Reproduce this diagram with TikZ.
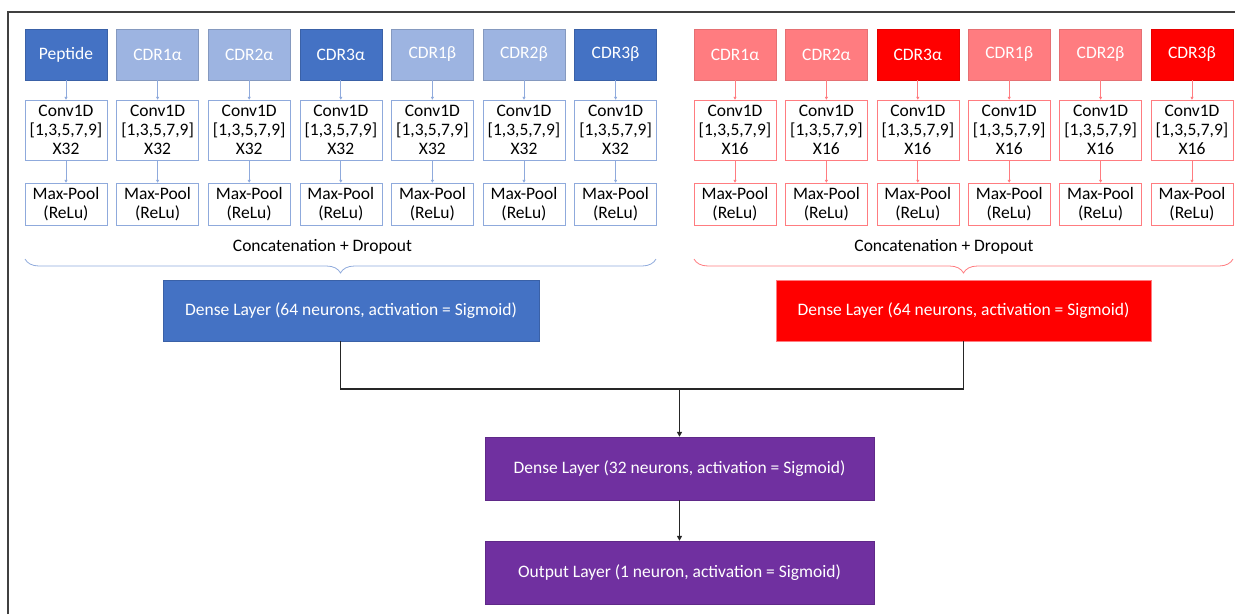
\documentclass[tikz,border=0pt]{standalone}
\usepackage{fontspec}
\setmainfont{Carlito}
\usepackage{tikz}
\usetikzlibrary{arrows.meta}
\usetikzlibrary{decorations,decorations.pathreplacing}
\usepackage{xcolor}
\definecolor{bdark}{HTML}{4472C4}
\definecolor{blight}{HTML}{9DB4E1}
\definecolor{bline}{HTML}{8FAADC}
\definecolor{rdark}{HTML}{FF0000}
\definecolor{rlight}{HTML}{FF7C80}
\definecolor{pdark}{HTML}{7030A0}
\tikzstyle{every node}=[font=\fontsize{17.5}{19}\selectfont]
\tikzstyle{inbox}=[minimum width=82pt, minimum height=51pt, inner sep=0pt, text=white]
\tikzstyle{bconv}=[draw=bline, fill=white, minimum width=82pt, minimum height=60pt, inner sep=0pt, align=center]
\tikzstyle{bpool}=[draw=bline, fill=white, minimum width=82pt, minimum height=42pt, inner sep=0pt, align=center]
\tikzstyle{rconv}=[bconv, draw=rlight]
\tikzstyle{rpool}=[bpool, draw=rlight]
\tikzstyle{barrow}=[draw=bline, line width=0.8pt, -{Triangle[length=3pt,width=3pt]}]
\tikzstyle{rarrow}=[barrow, draw=rlight]
\tikzstyle{dense}=[minimum height=61pt, inner sep=0pt, text=white]
\tikzstyle{link}=[draw=black!85, line width=1.3pt]
\tikzstyle{linkarrow}=[link, -{Triangle[length=5pt,width=5pt]}]
\tikzstyle{bbrace}=[decorate, decoration={brace, mirror, amplitude=14pt}, draw=bline, line width=0.8pt]
\tikzstyle{rbrace}=[bbrace, draw=rlight]
\newcommand{\convlabel}[1]{Conv1D\\{[1,3,5,7,9]}\\X#1}

\begin{document}
\begin{tikzpicture}[x=1pt, y=-1pt]
	\useasboundingbox (0,0) rectangle (1235,614);
	\draw[line width=2pt, black!75] (8,614) |- (1235,12);
	% peptide + CDR columns, X32 branch
	\foreach \i/\lab/\fc in {1/Peptide/bdark, 2/CDR1α/blight, 3/CDR2α/blight, 4/CDR3α/bdark, 5/CDR1β/blight, 6/CDR2β/blight, 7/CDR3β/bdark} {
		\node[inbox, fill=\fc, draw=\fc!85!black] (bin\i) at ({66+91.6*(\i-1)}, 54.5) {\lab};
		\node[bconv] (bconv\i) at ({66+91.6*(\i-1)}, 130) {\convlabel{32}};
		\node[bpool] (bpool\i) at ({66+91.6*(\i-1)}, 204) {Max-Pool\\(ReLu)};
		\draw[barrow] (bin\i) -- (bconv\i);
		\draw[barrow] (bconv\i) -- (bpool\i);
	}
	% CDR columns, X16 branch
	\foreach \i/\lab/\fc in {1/CDR1α/rlight, 2/CDR2α/rlight, 3/CDR3α/rdark, 4/CDR1β/rlight, 5/CDR2β/rlight, 6/CDR3β/rdark} {
		\node[inbox, fill=\fc, draw=\fc!90!black] (rin\i) at ({735+91.4*(\i-1)}, 54.5) {\lab};
		\node[rconv] (rconv\i) at ({735+91.4*(\i-1)}, 130) {\convlabel{16}};
		\node[rpool] (rpool\i) at ({735+91.4*(\i-1)}, 204) {Max-Pool\\(ReLu)};
		\draw[rarrow] (rin\i) -- (rconv\i);
		\draw[rarrow] (rconv\i) -- (rpool\i);
	}
	\draw[bbrace] (25,259) -- (656,259);
	\draw[rbrace] (694,259) -- (1233,259);
	\node (bcat) at (322.5,247) {Concatenation + Dropout};
	\node (rcat) at (944,247) {Concatenation + Dropout};
	\node[dense, minimum width=376pt, fill=bdark, draw=bdark!85!black] (bdense) at (351,310.5) {Dense Layer (64 neurons, activation = Sigmoid)};
	\node[dense, minimum width=375pt, fill=rdark, draw=rlight] (rdense) at (963.5,310.5) {Dense Layer (64 neurons, activation = Sigmoid)};
	\node[dense, minimum width=389pt, minimum height=63pt, fill=pdark, draw=pdark!85!black] (dense32) at (679.5,468.5) {Dense Layer (32 neurons, activation = Sigmoid)};
	\node[dense, minimum width=389pt, minimum height=63pt, fill=pdark, draw=pdark!85!black] (outlayer) at (679.5,572.5) {Output Layer (1 neuron, activation = Sigmoid)};
	\coordinate (join) at (679.5,389);
	\draw[link] (bpool4 |- bdense.south) |- (join) -| (rdense.south);
	\draw[linkarrow] (join) -- (dense32);
	\draw[linkarrow] (dense32) -- (outlayer);
\end{tikzpicture}
\end{document}
